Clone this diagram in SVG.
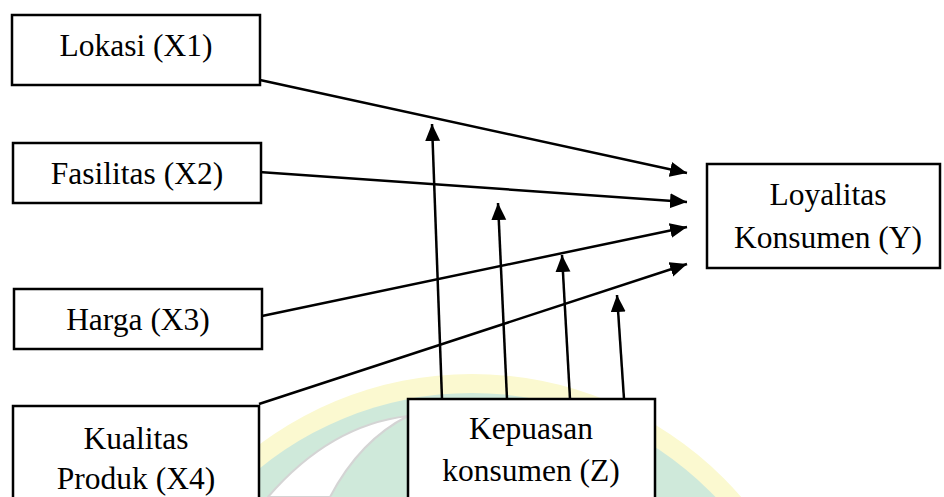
<svg xmlns="http://www.w3.org/2000/svg" width="944" height="497" viewBox="0 0 944 497">
  <defs>
    <marker id="ah" markerUnits="userSpaceOnUse" markerWidth="18" markerHeight="16" refX="17" refY="7.5" orient="auto">
      <path d="M0,0 L17,7.5 L0,15 z" fill="#000"/>
    </marker>
    <style>
      .box { fill: #fff; stroke: #000; stroke-width: 2.5; }
      .lbl { font-family: "Liberation Serif", "Times New Roman", serif; font-size: 31.5px; fill: #000; text-anchor: middle; }
      .con { stroke: #000; stroke-width: 2.5; fill: none; marker-end: url(#ah); }
    </style>
  </defs>
  <rect width="944" height="497" fill="#fff"/>
  <g id="watermark">
    <circle cx="472" cy="730" r="356" fill="#fbf9d0"/>
    <circle cx="472" cy="730" r="337" fill="#cfe9da"/>
    <path d="M408,416 Q330,425 268,497 L330,497 Q360,440 408,416 Z" fill="#fff" stroke="#d4d4d4" stroke-width="2"/>
  </g>
  <g id="connectors">
    <line class="con" x1="260" y1="80" x2="687" y2="173"/>
    <line class="con" x1="259" y1="172" x2="687" y2="202"/>
    <line class="con" x1="262" y1="316" x2="687" y2="227"/>
    <line class="con" x1="259" y1="404" x2="687" y2="264"/>
    <line class="con" x1="442" y1="399" x2="432" y2="124"/>
    <line class="con" x1="507" y1="399" x2="498" y2="203"/>
    <line class="con" x1="570" y1="399" x2="562" y2="255"/>
    <line class="con" x1="624" y1="399" x2="617" y2="295"/>
  </g>
  <g id="x1">
    <rect class="box" x="12" y="15" width="248" height="70"/>
    <text class="lbl" x="136" y="56">Lokasi (X1)</text>
  </g>
  <g id="x2">
    <rect class="box" x="13" y="143" width="248" height="60"/>
    <text class="lbl" x="137" y="184">Fasilitas (X2)</text>
  </g>
  <g id="x3">
    <rect class="box" x="14" y="289" width="248" height="60"/>
    <text class="lbl" x="138" y="330">Harga (X3)</text>
  </g>
  <g id="x4">
    <rect class="box" x="13" y="406" width="246" height="100"/>
    <text class="lbl" x="136" y="449">Kualitas</text>
    <text class="lbl" x="136" y="489">Produk (X4)</text>
  </g>
  <g id="z">
    <rect class="box" x="408" y="399" width="247" height="110"/>
    <text class="lbl" x="531" y="439">Kepuasan</text>
    <text class="lbl" x="531" y="481">konsumen (Z)</text>
  </g>
  <g id="y">
    <rect class="box" x="707" y="164" width="233" height="104"/>
    <text class="lbl" x="828" y="205">Loyalitas</text>
    <text class="lbl" x="828" y="248">Konsumen (Y)</text>
  </g>
</svg>
